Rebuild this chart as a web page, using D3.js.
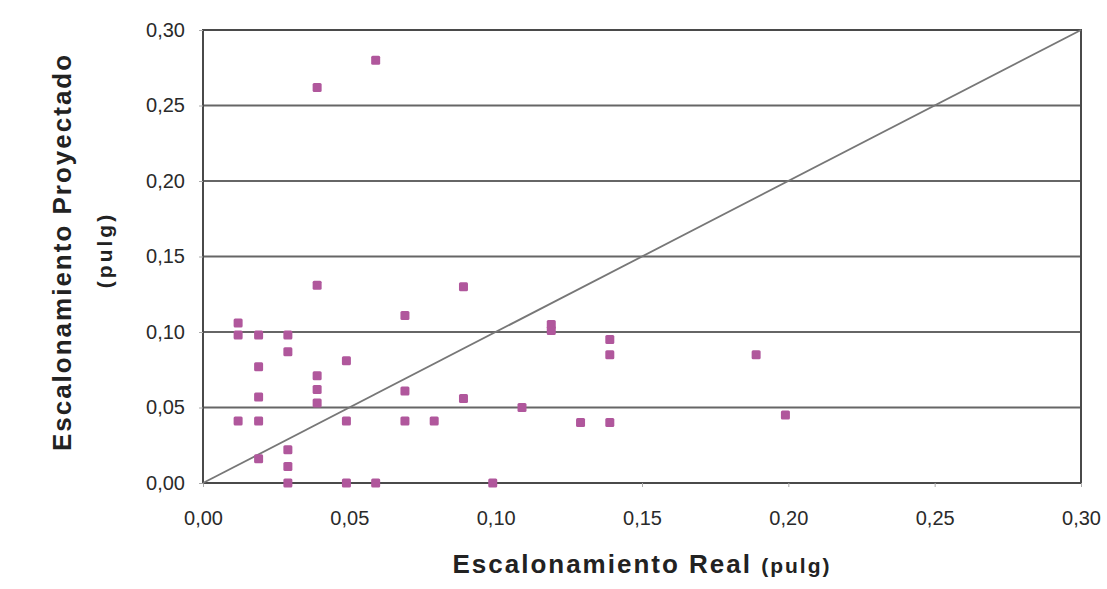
<!DOCTYPE html>
<html>
<head>
<meta charset="utf-8">
<script src="https://cdn.jsdelivr.net/npm/d3@7"></script>
<style>
  body { margin: 0; background: #fff; }
  svg { display: block; font-family: "Liberation Sans", Arial, sans-serif; }
</style>
</head>
<body>
<svg id="chart" width="1107" height="589"></svg>
<script>
// escalonamiento real vs proyectado (pulg)
const realVals = [0.012, 0.012, 0.012, 0.019, 0.019, 0.019, 0.019, 0.019,
  0.029, 0.029, 0.029, 0.029, 0.029, 0.039, 0.039, 0.039, 0.039, 0.039,
  0.049, 0.049, 0.049, 0.059, 0.059, 0.069, 0.069, 0.069, 0.079, 0.089,
  0.089, 0.099, 0.109, 0.119, 0.119, 0.129, 0.139, 0.139, 0.139, 0.189, 0.199];
const projVals = [0.106, 0.098, 0.041, 0.098, 0.077, 0.057, 0.041, 0.016,
  0.098, 0.087, 0.022, 0.011, 0.000, 0.262, 0.131, 0.071, 0.062, 0.053,
  0.081, 0.041, 0.000, 0.280, 0.000, 0.111, 0.061, 0.041, 0.041, 0.130,
  0.056, 0.000, 0.050, 0.105, 0.101, 0.040, 0.095, 0.085, 0.040, 0.085, 0.045];
const tickVals = [0, 0.05, 0.10, 0.15, 0.20, 0.25, 0.30];
const xTitle = "Escalonamiento Real";
const yTitle = "Escalonamiento Proyectado";
const unitLabel = "(pulg)";

const svg = d3.select("#chart");
const plotL = 203, plotR = 1081, plotT = 30, plotB = 483;

const x = d3.scaleLinear().domain([0, 0.3]).range([plotL, plotR]);
const y = d3.scaleLinear().domain([0, 0.3]).range([plotB, plotT]);
const fmt = d => d3.format(".2f")(d).replace(".", ",");

// gridlines
svg.append("g").selectAll("line")
  .data(tickVals.filter(d => d > 0 && d < 0.3))
  .join("line")
  .attr("x1", plotL).attr("x2", plotR)
  .attr("y1", d => y(d)).attr("y2", d => y(d))
  .attr("stroke", "#666").attr("stroke-width", 2);

// plot frame
svg.append("rect")
  .attr("x", plotL).attr("y", plotT)
  .attr("width", plotR - plotL).attr("height", plotB - plotT)
  .attr("fill", "none").attr("stroke", "#4a4a4a").attr("stroke-width", 2);

// axes
const xAxis = svg.append("g")
  .attr("transform", `translate(0,${plotB})`)
  .call(d3.axisBottom(x).tickValues(tickVals).tickFormat(fmt).tickSize(4).tickPadding(24));
const yAxis = svg.append("g")
  .attr("transform", `translate(${plotL},0)`)
  .call(d3.axisLeft(y).tickValues(tickVals).tickFormat(fmt).tickSize(4).tickPadding(14));
[xAxis, yAxis].forEach(ax => {
  ax.select(".domain").remove();
  ax.selectAll(".tick line").attr("stroke", "#aaa");
  ax.selectAll("text").attr("font-size", 20).attr("fill", "#2a2a2a")
    .attr("font-family", "'Liberation Sans', Arial, sans-serif");
});

// 1:1 line
svg.append("line")
  .attr("x1", x(0)).attr("y1", y(0))
  .attr("x2", x(0.3)).attr("y2", y(0.3))
  .attr("stroke", "#777").attr("stroke-width", 1.8);

// points
svg.append("g").selectAll("rect")
  .data(realVals.map((v, i) => [v, projVals[i]]))
  .join("rect")
  .attr("x", d => x(d[0]) - 4.5).attr("y", d => y(d[1]) - 4.5)
  .attr("width", 9).attr("height", 9).attr("rx", 1.5)
  .attr("fill", "#b0579c");

// axis titles
const xt = svg.append("text")
  .attr("x", 642).attr("y", 573)
  .attr("text-anchor", "middle")
  .attr("font-weight", "bold").attr("fill", "#222")
  .attr("letter-spacing", 2);
xt.append("tspan").attr("font-size", 26).text(xTitle + " ");
xt.append("tspan").attr("font-size", 21).text(unitLabel);

svg.append("text")
  .attr("transform", "translate(71,252) rotate(-90)")
  .attr("text-anchor", "middle")
  .attr("font-size", 26).attr("font-weight", "bold").attr("fill", "#222")
  .attr("letter-spacing", 2)
  .text(yTitle);
svg.append("text")
  .attr("transform", "translate(112,250) rotate(-90)")
  .attr("text-anchor", "middle")
  .attr("font-size", 21).attr("font-weight", "bold").attr("fill", "#222")
  .attr("letter-spacing", 3)
  .text(unitLabel);
</script>
</body>
</html>
